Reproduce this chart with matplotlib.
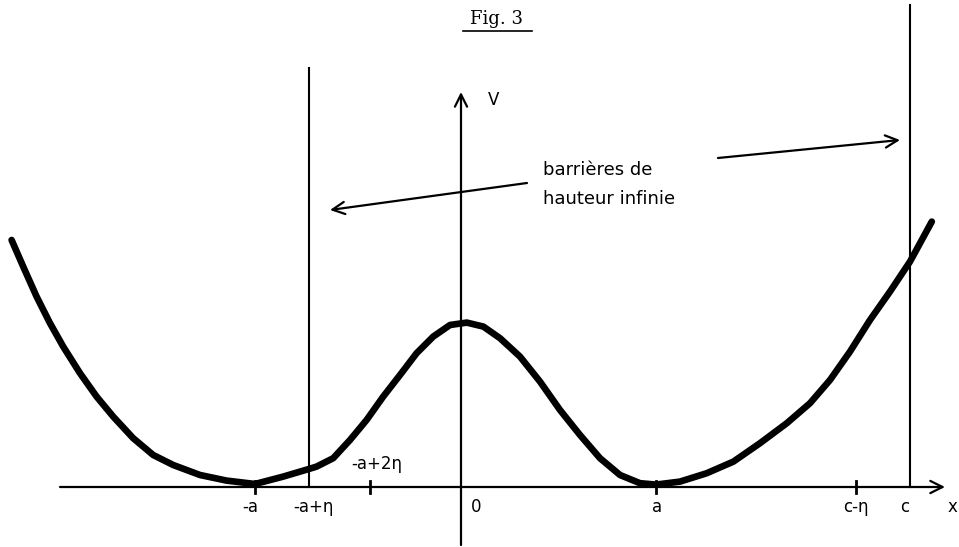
import numpy as np
import matplotlib
matplotlib.use('Agg')
import matplotlib.pyplot as plt

# potential curve (units: a ~ 1, origin at the V axis)
curve_x = [-2.247, -2.189, -2.122, -2.055, -1.989, -1.905, -1.822, -1.739, -1.639, -1.539,
           -1.439, -1.305, -1.172, -1.03, -0.889, -0.764, -0.722, -0.639, -0.555, -0.472,
           -0.389, -0.305, -0.222, -0.139, -0.055, 0.029, 0.112, 0.195, 0.295, 0.395,
           0.495, 0.595, 0.695, 0.795, 0.895, 0.975, 1.095, 1.229, 1.362, 1.495,
           1.629, 1.745, 1.845, 1.945, 2.045, 2.145, 2.245, 2.354]
curve_y = [1.235, 1.102, 0.952, 0.819, 0.702, 0.569, 0.452, 0.352, 0.244, 0.16,
           0.11, 0.06, 0.032, 0.015, 0.052, 0.089, 0.102, 0.144, 0.235, 0.335,
           0.452, 0.56, 0.669, 0.752, 0.81, 0.822, 0.802, 0.744, 0.652, 0.527,
           0.385, 0.26, 0.144, 0.06, 0.019, 0.012, 0.027, 0.069, 0.127, 0.219,
           0.319, 0.419, 0.535, 0.677, 0.835, 0.977, 1.127, 1.327]

# walls (x position, top of line)
wall_x = [-0.76, 2.245]
wall_top = [2.095, 2.41]

# small tick marks on the x axis
tick_x = [-1.03, -0.455, 0.975, 1.975]

# labels under (or over) the x axis
label_text = ['-a', '-a+η', '-a+2η', '0', 'a', 'c-η', 'c', 'x']
label_x = [-1.055, -0.74, -0.42, 0.075, 0.98, 1.975, 2.22, 2.455]
label_y = [-0.1, -0.1, 0.115, -0.1, -0.1, -0.1, -0.1, -0.1]

fig = plt.figure(figsize=(9.59, 5.47), dpi=100)
ax = fig.add_axes([0, 0, 1, 1])
ax.set_xlim(-2.305, 2.49)
ax.set_ylim(-0.3, 2.435)
ax.axis('off')

arrow = dict(arrowstyle='->', lw=1.6, color='black', mutation_scale=22,
             shrinkA=0, shrinkB=0)

# axes
ax.annotate('', xy=(2.42, 0), xytext=(-2.005, 0), arrowprops=arrow)
ax.annotate('', xy=(0, 1.975), xytext=(0, -0.29), arrowprops=arrow)

# infinite walls
for wx, wt in zip(wall_x, wall_top):
    ax.plot([wx, wx], [0, wt], color='black', lw=1.5)

for tx in tick_x:
    ax.plot([tx, tx], [-0.03, 0.03], color='black', lw=2)

# the potential V(x)
ax.plot(curve_x, curve_y, color='black', lw=4.8, solid_joinstyle='round',
        solid_capstyle='round')

for t, lx, ly in zip(label_text, label_x, label_y):
    ax.text(lx, ly, t, ha='center', va='center', fontsize=12)

ax.text(0.165, 1.935, 'V', ha='center', va='center', fontsize=12)

ax.text(0.41, 1.585, 'barrières de', ha='left', va='center', fontsize=13)
ax.text(0.41, 1.44, 'hauteur infinie', ha='left', va='center', fontsize=13)
ax.annotate('', xy=(-0.655, 1.385), xytext=(0.33, 1.52), arrowprops=arrow)
ax.annotate('', xy=(2.195, 1.735), xytext=(1.285, 1.645), arrowprops=arrow)

# title, underlined
ax.text(0.18, 2.34, 'Fig. 3', ha='center', va='center', fontsize=13, family='DejaVu Serif')
ax.plot([0.01, 0.355], [2.28, 2.28], color='black', lw=1.2)

fig.savefig('out.png', dpi=100)
